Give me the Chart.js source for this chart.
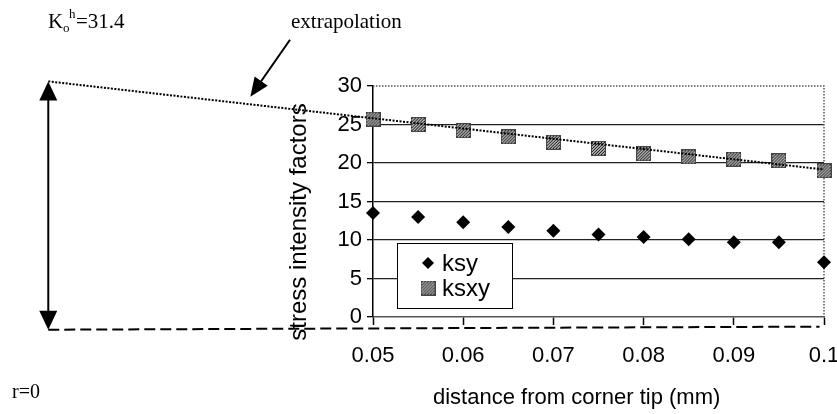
<!DOCTYPE html>
<html>
<head>
    <title>Stress intensity factors</title>
    <script src="https://cdn.jsdelivr.net/npm/chart.js@4.4.0/dist/chart.umd.min.js"></script>
    <style>
        body {
            margin: 0;
            padding: 0;
            background: #ffffff;
        }
        #wrap {
            width: 837px;
            height: 414px;
        }
    </style>
</head>
<body>
    <div id="wrap">
        <canvas id="sifChart" width="837" height="414"></canvas>
    </div>

    <script>
        // measured values
        const distance = [0.05, 0.055, 0.06, 0.065, 0.07, 0.075, 0.08, 0.085, 0.09, 0.095, 0.1];
        const ksy  = [13.5, 13.0, 12.3, 11.7, 11.2, 10.7, 10.4, 10.1, 9.7, 9.7, 7.1];
        const ksxy = [25.7, 25.0, 24.2, 23.4, 22.7, 21.9, 21.2, 20.8, 20.5, 20.3, 19.0];

        // tick labels
        const xTicks = [0.05, 0.06, 0.07, 0.08, 0.09, 0.1];
        const yTicks = [0, 5, 10, 15, 20, 25, 30];

        // schematic extrapolation back to r=0 (drawn outside the plot area)
        const K0 = 31.4;
        const extrapX = [0.014, 0.1];
        const extrapY = [30.6, 19.15];
        const baseX = [0.014, 0.0995];
        const baseY = [-1.65, -1.25];
        const pointerX = [0.0408, 0.0364];
        const pointerY = [36.0, 28.6];

        const SANS = '"Liberation Sans", Arial, sans-serif';
        const SERIF = '"Liberation Serif", "Times New Roman", serif';

        // hatched square marker for ksxy
        const hatch = document.createElement('canvas');
        hatch.width = 15;
        hatch.height = 15;
        (function () {
            const h = hatch.getContext('2d');
            h.fillStyle = '#ffffff';
            h.fillRect(0, 0, 15, 15);
            h.strokeStyle = '#000000';
            h.lineWidth = 1.1;
            for (let k = -15; k < 30; k += 3) {
                h.beginPath();
                h.moveTo(k, 15);
                h.lineTo(k + 15, 0);
                h.stroke();
            }
            h.strokeStyle = '#444';
            h.lineWidth = 1;
            h.strokeRect(0.5, 0.5, 14, 14);
        })();

        function pts(xs, ys) {
            return xs.map((x, i) => ({x: x, y: ys[i]}));
        }

        function arrowHead(ctx, x1, y1, x2, y2, len, half) {
            const a = Math.atan2(y2 - y1, x2 - x1);
            const c = Math.cos(a), s = Math.sin(a);
            ctx.beginPath();
            ctx.moveTo(x2, y2);
            ctx.lineTo(x2 - len * c + half * s, y2 - len * s - half * c);
            ctx.lineTo(x2 - len * c - half * s, y2 - len * s + half * c);
            ctx.closePath();
            ctx.fill();
        }

        const sketch = {
            id: 'sketch',
            beforeDatasetsDraw(chart) {
                // dotted top and right frame of the plot area
                const {ctx, chartArea: a} = chart;
                ctx.save();
                ctx.strokeStyle = '#555';
                ctx.lineWidth = 1.5;
                ctx.setLineDash([1.5, 1.5]);
                ctx.beginPath();
                ctx.moveTo(a.left, a.top);
                ctx.lineTo(a.right, a.top);
                ctx.lineTo(a.right, a.bottom);
                ctx.stroke();
                ctx.restore();
            },
            afterDatasetsDraw(chart) {
                const ctx = chart.ctx;
                const xs = chart.scales.x, ys = chart.scales.y;
                const px = v => xs.getPixelForValue(v);
                const py = v => ys.getPixelForValue(v);

                ctx.save();
                ctx.fillStyle = '#000';
                ctx.strokeStyle = '#000';

                // double arrow at r=0
                const ax = px(extrapX[0]), aTop = py(extrapY[0]), aBot = py(baseY[0]);
                ctx.lineWidth = 2;
                ctx.beginPath();
                ctx.moveTo(ax, aTop + 10);
                ctx.lineTo(ax, aBot - 10);
                ctx.stroke();
                arrowHead(ctx, ax, aBot, ax, aTop, 19, 9);
                arrowHead(ctx, ax, aTop, ax, aBot, 19, 9);

                // pointer to the extrapolation line
                const p1x = px(pointerX[0]), p1y = py(pointerY[0]);
                const p2x = px(pointerX[1]), p2y = py(pointerY[1]);
                ctx.beginPath();
                ctx.moveTo(p1x, p1y);
                ctx.lineTo(p2x + (p1x - p2x) * 0.25, p2y + (p1y - p2y) * 0.25);
                ctx.stroke();
                arrowHead(ctx, p1x, p1y, p2x, p2y, 19, 8);

                // legend box
                const lx = 397, ly = 243, lw = 115, lh = 65;
                ctx.fillStyle = '#fff';
                ctx.fillRect(lx, ly, lw, lh);
                ctx.lineWidth = 1;
                ctx.strokeRect(lx + 0.5, ly + 0.5, lw, lh);
                ctx.fillStyle = '#000';
                ctx.font = '24px ' + SANS;
                ctx.textBaseline = 'middle';
                ctx.textAlign = 'left';
                const items = chart.data.datasets.filter(d => d.inLegend);
                items.forEach((d, i) => {
                    const cy = ly + 20 + i * 25;
                    Chart.helpers.drawPoint(ctx, {
                        pointStyle: d.pointStyle,
                        radius: 6,
                        rotation: 0,
                        borderWidth: 0
                    }, lx + 31, cy);
                    ctx.fillStyle = '#000';
                    ctx.fillText(d.label, lx + 45, cy + 1);
                });

                // texts
                ctx.textBaseline = 'alphabetic';
                ctx.font = '21px ' + SERIF;
                ctx.fillText('K', 48, 28);
                ctx.font = '13px ' + SERIF;
                ctx.fillText('o', 63, 32);
                ctx.fillText('h', 69, 18);
                ctx.font = '21px ' + SERIF;
                ctx.fillText('=' + K0, 76, 28);
                ctx.fillText('extrapolation', 291, 28);
                ctx.font = '20px ' + SERIF;
                ctx.fillText('r=0', 12, 398);

                ctx.font = '22px ' + SANS;
                ctx.fillText('distance from corner tip (mm)', 433, 404);
                ctx.save();
                ctx.translate(306, 222);
                ctx.rotate(-Math.PI / 2);
                ctx.textAlign = 'center';
                ctx.font = '24px ' + SANS;
                ctx.fillText('stress intensity factors', 0, 0);
                ctx.restore();

                ctx.restore();
            }
        };

        const chart = new Chart(document.getElementById('sifChart'), {
            type: 'scatter',
            data: {
                datasets: [
                    {
                        label: 'extrapolation',
                        data: pts(extrapX, extrapY),
                        showLine: true,
                        borderColor: '#000',
                        borderWidth: 2,
                        borderDash: [2, 1.5],
                        pointRadius: 0,
                        clip: false
                    },
                    {
                        label: 'r=0',
                        data: pts(baseX, baseY),
                        showLine: true,
                        borderColor: '#000',
                        borderWidth: 2,
                        borderDash: [11, 5],
                        pointRadius: 0,
                        clip: false
                    },
                    {
                        label: 'ksy',
                        inLegend: true,
                        data: pts(distance, ksy),
                        pointStyle: 'rectRot',
                        pointRadius: 7,
                        backgroundColor: '#000',
                        borderColor: '#000',
                        borderWidth: 0,
                        clip: false
                    },
                    {
                        label: 'ksxy',
                        inLegend: true,
                        data: pts(distance, ksxy),
                        pointStyle: hatch,
                        pointRadius: 7,
                        clip: false
                    }
                ]
            },
            options: {
                responsive: false,
                animation: false,
                events: [],
                layout: {
                    padding: {left: 253, right: 13, top: 86, bottom: 37}
                },
                plugins: {
                    legend: {display: false},
                    tooltip: {enabled: false}
                },
                scales: {
                    x: {
                        type: 'linear',
                        min: 0.05,
                        max: 0.1,
                        afterBuildTicks: s => { s.ticks = xTicks.map(v => ({value: v})); },
                        afterFit: s => { s.height = 60; s.paddingLeft = 0; s.paddingRight = 0; },
                        grid: {
                            drawOnChartArea: false,
                            tickLength: 8,
                            tickColor: '#000',
                            tickWidth: 1.5
                        },
                        border: {color: '#555', width: 1.5},
                        ticks: {
                            color: '#000',
                            padding: 18,
                            maxRotation: 0,
                            font: {family: SANS, size: 22},
                            callback: v => String(+v.toFixed(2))
                        }
                    },
                    y: {
                        min: 0,
                        max: 30,
                        afterBuildTicks: s => { s.ticks = yTicks.map(v => ({value: v})); },
                        afterFit: s => { s.width = 120; },
                        grid: {
                            color: c => (c.tick && (c.tick.value === 0 || c.tick.value === 30)) ? 'rgba(0,0,0,0)' : '#222',
                            lineWidth: 1.3,
                            tickLength: 6,
                            tickColor: '#000',
                            tickWidth: 1.3
                        },
                        border: {color: '#000', width: 1.5},
                        ticks: {
                            color: '#000',
                            padding: 5,
                            font: {family: SANS, size: 22}
                        }
                    }
                }
            },
            plugins: [sketch]
        });
    </script>
</body>
</html>
